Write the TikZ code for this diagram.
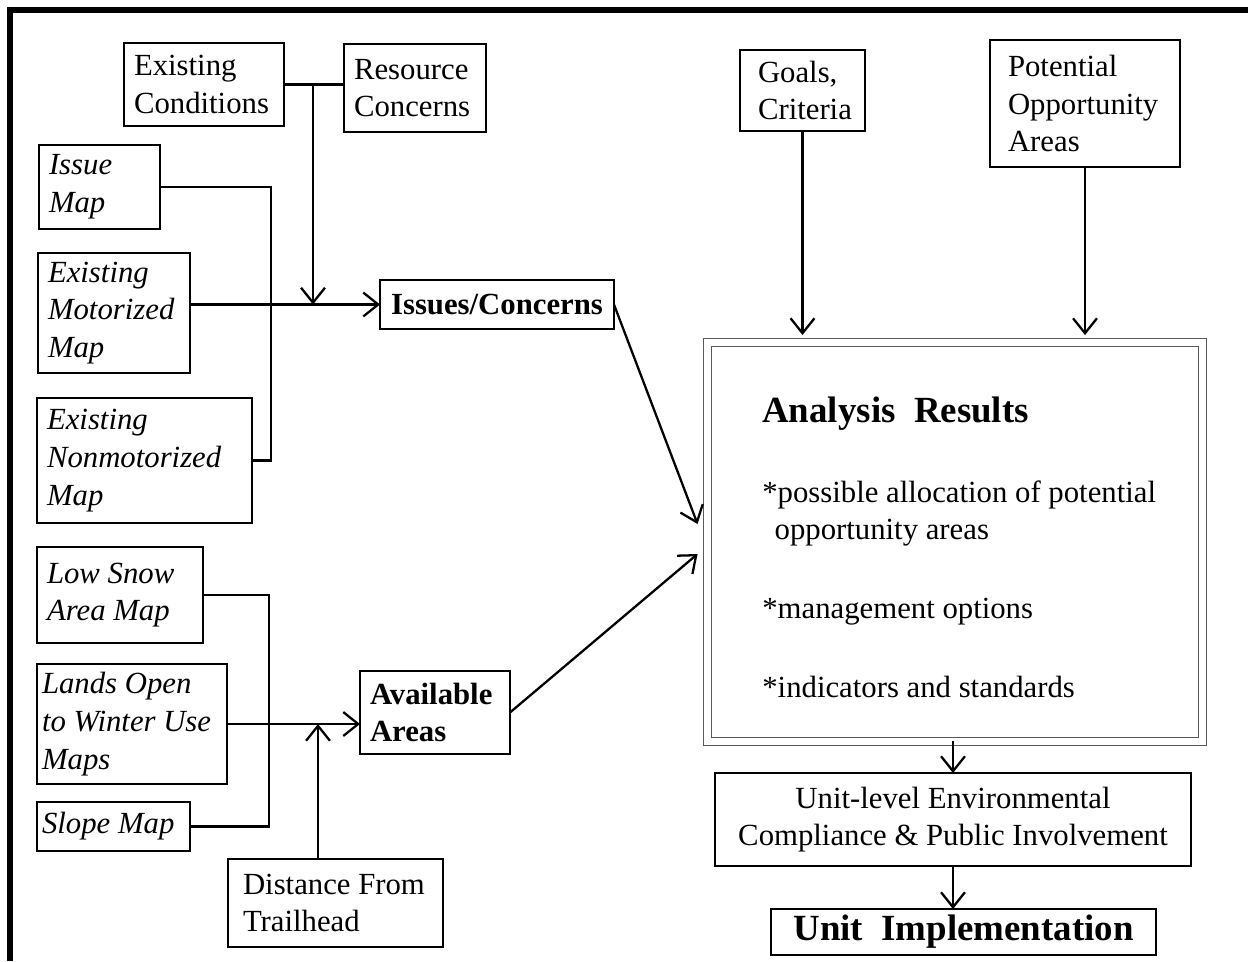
\documentclass[tikz,border=0pt]{standalone}
\usepackage{fontspec}
\setmainfont{Liberation Serif}
\usetikzlibrary{arrows.meta, calc, positioning}
\def\boxlinewidth{1.3pt}
\def\framelinewidth{3.2pt}
\def\innersep{0.2cm}
\def\boxfont{\fontsize{17.5}{21.5}\selectfont}
\def\titlefont{\fontsize{21}{25}\selectfont}
\def\resultsdrawcolor{black!65}
\def\resultslinewidth{0.6pt}
\tikzset{
	% general boxes
	module/.style={
		draw,
		line width=\boxlinewidth,
		font=\boxfont,
		align=flush left,
		inner xsep=\innersep,
		inner ysep=0pt,
		outer sep=0pt,
		shape=rectangle,
	},
	% map inputs
	map/.style={
		module,
		font=\boxfont\itshape,
	},
	% intermediate products
	product/.style={
		module,
		font=\boxfont\bfseries,
	},
	% analysis results
	results/.style={
		draw=\resultsdrawcolor,
		line width=\resultslinewidth,
		double,
		double distance=0.14cm,
		outer sep=0pt,
		shape=rectangle,
	},
	results_text/.style={
		font=\boxfont,
		align=flush left,
		text width=8.56cm,
		inner sep=0pt,
	},
	% connections
	connection/.style={
		line width=\boxlinewidth,
		-{Straight Barb[length=8.5pt,width=13.6pt]},
	},
	link/.style={
		line width=\boxlinewidth,
	},
}

\begin{document}
\begin{tikzpicture}[x=0.02cm, y=-0.02cm]
	\useasboundingbox (0,0) rectangle (1248,961);
	% frame
	\draw[line width=\framelinewidth] (10,961) -- (10,10) -- (1248,10);
	%
	\node[module, text width=2.8cm, minimum height=1.66cm] (cond) at (204,84.5) {Existing\\Conditions};
	\node[module, text width=2.44cm, minimum height=1.76cm] (res) at (415,88) {Resource\\Concerns};
	%
	\node[map, text width=2.02cm, minimum height=1.68cm] (issue) at (99.5,187) {Issue\\Map};
	\node[map, text width=2.64cm, minimum height=2.4cm] (motor) at (114,313) {Existing\\Motorized\\Map};
	\node[map, text width=3.9cm, minimum height=2.5cm] (nonmotor) at (144.5,460.5) {Existing\\Nonmotorized\\Map};
	%
	\node[map, text width=2.92cm, minimum height=1.92cm] (lowsnow) at (120,595) {Low Snow\\Area Map};
	\node[map, inner xsep=0.1cm, text width=3.6cm, minimum height=2.4cm] (lands) at (132,724) {Lands Open\\to Winter Use\\Maps};
	\node[map, inner xsep=0.1cm, text width=2.86cm, minimum height=0.98cm] (slope) at (113.5,826.5) {Slope Map};
	\node[module, inner xsep=0.3cm, text width=3.7cm, minimum height=1.76cm] (dist) at (335.5,903) {Distance From\\Trailhead};
	%
	\node[product, align=center, inner xsep=0pt, minimum width=4.68cm, minimum height=0.98cm] (issues) at (497,304.5) {Issues/Concerns};
	\node[product, text width=2.6cm, minimum height=1.66cm] (avail) at (435,712.5) {Available\\Areas};
	%
	\node[module, inner xsep=0.36cm, text width=1.78cm, minimum height=1.62cm] (goals) at (802.5,90.5) {Goals,\\Criteria};
	\node[module, inner xsep=0.36cm, text width=3.08cm, minimum height=2.54cm] (poa) at (1085,103.5) {Potential\\Opportunity\\Areas};
	%
	\node[results, minimum width=9.9cm, minimum height=7.98cm] (analysis) at (955,542) {};
	\node[results_text, anchor=north west] (findings) at (762,397) {%
		{\titlefont\bfseries Analysis\ \ Results}\\[23.5pt]
		*possible allocation of potential\\
		\hspace*{7pt}opportunity areas\\[23.5pt]
		*management options\\[23.5pt]
		*indicators and standards};
	%
	\node[module, align=center, inner xsep=0pt, minimum width=9.52cm, minimum height=1.86cm] (unit) at (953,819.5) {Unit-level Environmental\\Compliance \& Public Involvement};
	\node[module, line width=1.6pt, font=\titlefont\bfseries, align=center, inner xsep=0pt, minimum width=7.7cm, minimum height=0.92cm] (impl) at (963.5,932) {Unit\ \ Implementation};
	%
	% junctions
	\coordinate (busA) at (271,0);
	\coordinate (busB) at (269,0);
	\coordinate (busC) at (313,0);
	\coordinate (busD) at (318,0);
	%
	\draw[link] (cond.east) -- (cond.east -| res.west);
	\draw[connection] (cond.east -| busC) -- (busC |- issues.west);
	\draw[connection] (motor.east |- issues.west) -- (issues.west);
	\draw[link] (issue.east) -- (issue.east -| busA) -- (busA |- nonmotor.east) -- (nonmotor.east);
	\draw[link] (lowsnow.east) -- (lowsnow.east -| busB) -- (busB |- slope.east) -- (slope.east);
	\draw[connection] (lands.east) -- (lands.east -| avail.west);
	\draw[connection] (dist.north -| busD) -- (lands.east -| busD);
	%
	\draw[connection] (issues.east) -- ([xshift=-0.2cm,yshift=0.36cm]analysis.west);
	\draw[connection] (avail.east) -- ([xshift=-0.2cm,yshift=-0.24cm]analysis.west);
	\draw[connection, shorten >=0.15cm] (goals.south) -- (goals.south |- analysis.north);
	\draw[connection, shorten >=0.15cm] (poa.south) -- (poa.south |- analysis.north);
	\draw[connection] (unit.north |- analysis.south) -- (unit.north);
	\draw[connection] (unit.south) -- (unit.south |- impl.north);
\end{tikzpicture}
\end{document}
